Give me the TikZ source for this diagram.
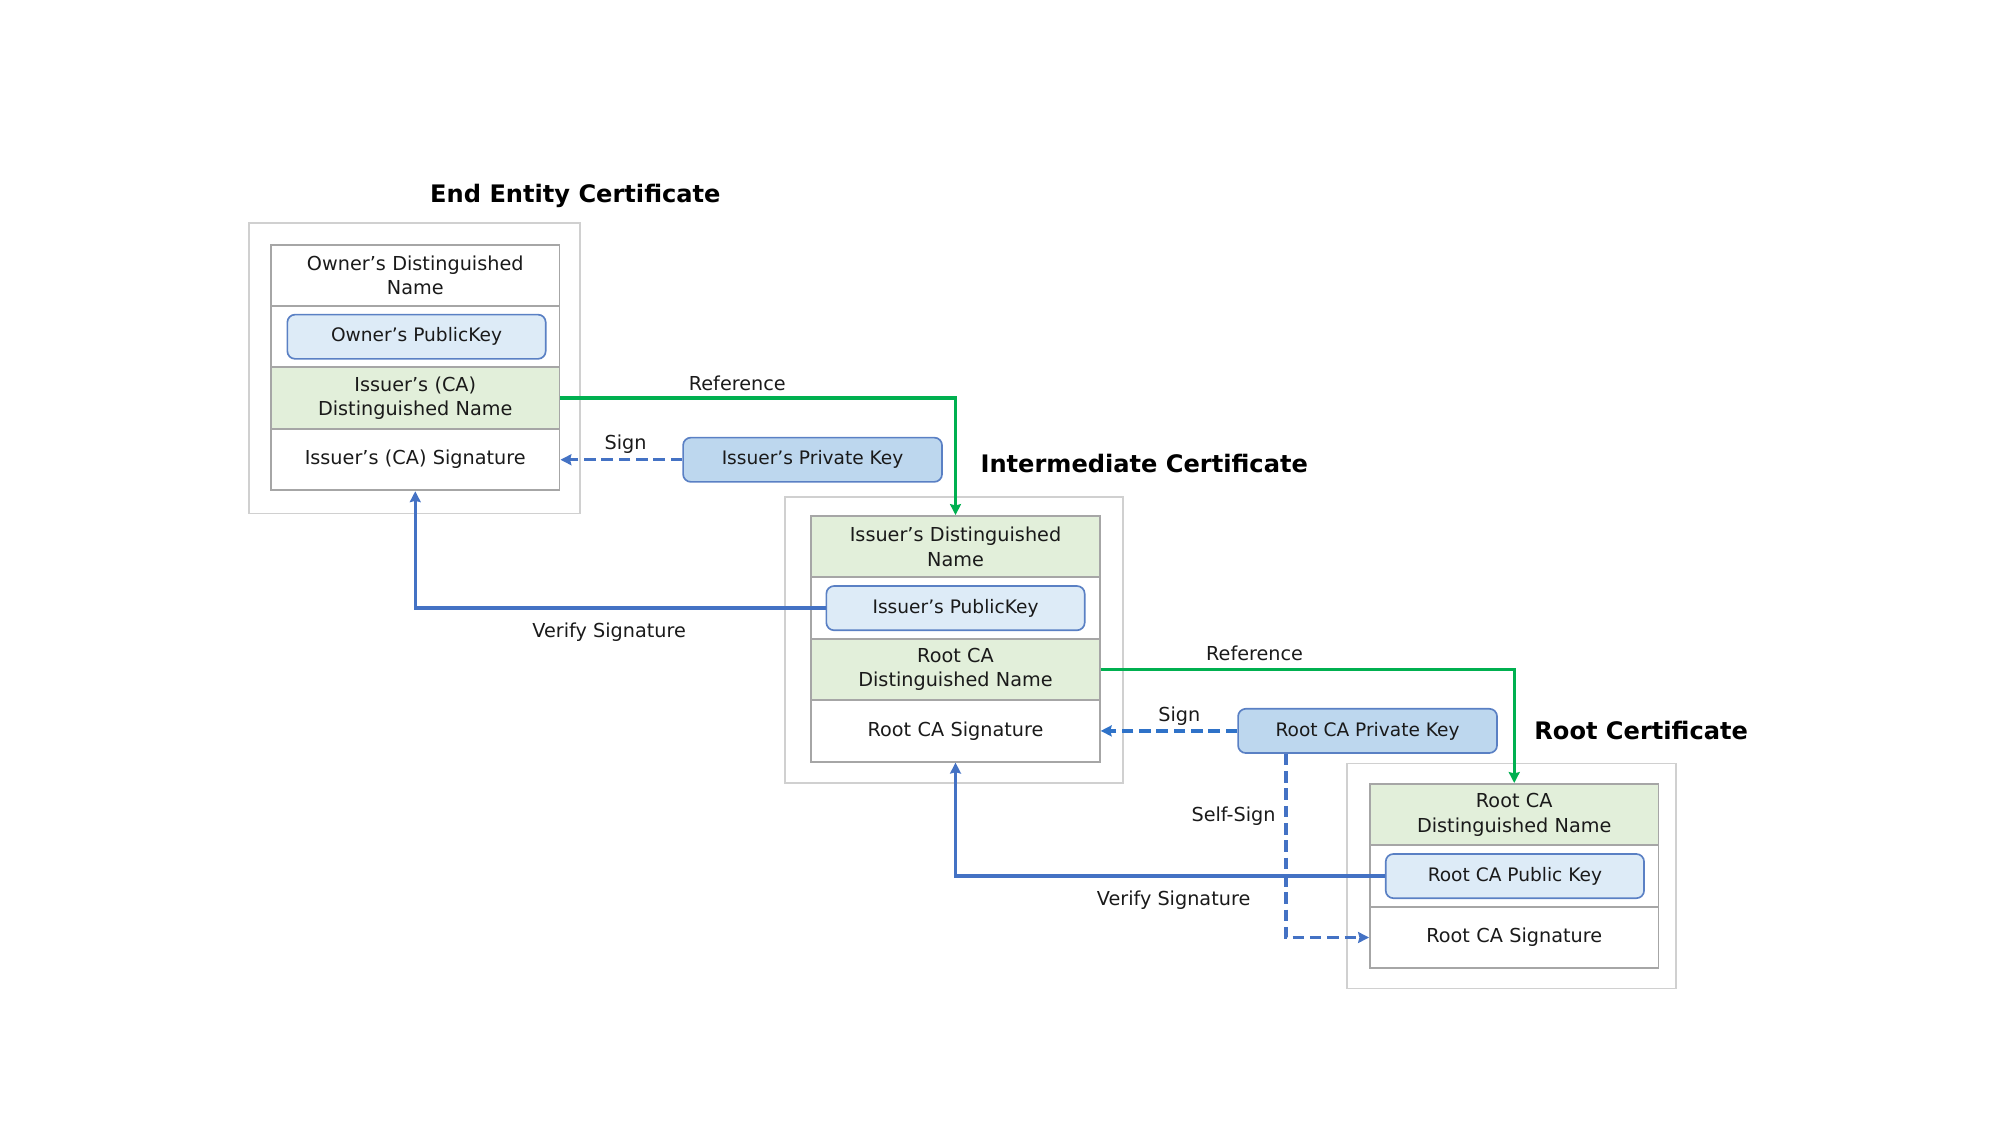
\documentclass[tikz,border=0pt]{standalone}
\usepackage{fontspec}
\setmainfont{DejaVu Sans}
\usetikzlibrary{arrows.meta}
\definecolor{greenfill}{HTML}{E2EFDA}
\definecolor{pubfill}{HTML}{DDEBF7}
\definecolor{privfill}{HTML}{BDD7EE}
\definecolor{keyborder}{HTML}{5A80C4}
\definecolor{rowborder}{HTML}{A6A6A6}
\definecolor{outerborder}{HTML}{D0D0D0}
\definecolor{refgreen}{HTML}{00B050}
\definecolor{verblue}{HTML}{4472C4}
\definecolor{signblue}{HTML}{4472C4}
\definecolor{signblueb}{HTML}{2F72C8}
\definecolor{txt}{HTML}{1A1A1A}
\tikzset{
  outerbox/.style={draw=outerborder, line width=1.5pt, inner sep=0pt},
  rowbox/.style={draw=rowborder, line width=1.5pt, fill=white, minimum width=225pt, minimum height=47.9pt,
    inner sep=0pt, text width=215pt, align=center, text=txt, font=\fontsize{15}{19}\selectfont},
  greenrow/.style={rowbox, fill=greenfill},
  pubkey/.style={draw=keyborder, line width=1.3pt, rounded corners=6pt, fill=pubfill, minimum width=201.5pt,
    minimum height=34.5pt, inner sep=0pt, align=center, text=txt, font=\fontsize{14.5}{18}\selectfont},
  privkey/.style={pubkey, fill=privfill, minimum width=202pt},
  certtitle/.style={anchor=base, font=\fontsize{18.8}{22}\selectfont\bfseries, text=black, inner sep=0pt},
  lbl/.style={anchor=base, font=\fontsize{15}{19}\selectfont, text=txt, inner sep=0pt},
  tip/.style={-{Stealth[length=8.5pt,width=8.5pt,inset=1pt]}},
  refline/.style={tip, draw=refgreen, line width=2.6pt},
  verline/.style={tip, draw=verblue, line width=2.7pt},
  signline/.style={tip, draw=signblue, line width=2.6pt, dash pattern=on 9pt off 4.5pt},
  signlineb/.style={signline, draw=signblueb}
}
\begin{document}
\begin{tikzpicture}[x=1pt,y=-1pt]
\useasboundingbox (0,0) rectangle (1560,877.5);

% titles
\node[certtitle] (eetitle) at (448.8,158.3) {End Entity Certificate};
\node[certtitle] (inttitle) at (892.5,368.5) {Intermediate Certificate};
\node[certtitle] (roottitle) at (1280.1,576.5) {Root Certificate};

% outer boxes
\node[outerbox, minimum width=258.7pt, minimum height=226.5pt] (eeout) at (323.4,287.25) {};
\node[outerbox, minimum width=263.6pt, minimum height=223pt] (intout) at (743.8,499) {};
\node[outerbox, minimum width=256.8pt, minimum height=175.5pt] (rootout) at (1179.1,683.25) {};

% End entity rows
\node[rowbox] (ee1) at (323.9,214.75) {Owner’s Distinguished\\Name};
\node[rowbox] (ee2) at (323.9,262.65) {};
\node[greenrow] (ee3) at (323.9,310.55) {Issuer’s (CA)\\Distinguished Name};
\node[rowbox] (ee4) at (323.9,358.45) {Issuer’s (CA) Signature};
\node[pubkey] (eepub) at (324.9,262.65) {Owner’s PublicKey};

% Intermediate rows
\node[greenrow] (int1) at (745.3,426.45) {Issuer’s Distinguished\\Name};
\node[rowbox] (int2) at (745.3,474.35) {};
\node[greenrow] (int3) at (745.3,522.25) {Root CA\\Distinguished Name};
\node[rowbox] (int4) at (745.3,570.15) {Root CA Signature};
\node[pubkey] (intpub) at (745.3,474.35) {Issuer’s PublicKey};

% Root rows
\node[greenrow] (root1) at (1181.1,635.45) {Root CA\\Distinguished Name};
\node[rowbox] (root2) at (1181.1,683.35) {};
\node[rowbox] (root3) at (1181.1,731.25) {Root CA Signature};
\node[pubkey] (rootpub) at (1181.6,683.35) {Root CA Public Key};

% private keys
\node[privkey] (ipriv) at (633.8,358.6) {Issuer’s Private Key};
\node[privkey] (rpriv) at (1066.7,570.1) {Root CA Private Key};

% connectors
\draw[refline] (ee3.east) -| (int1.north);
\draw[signline] (ipriv.west) -- (ipriv.west -| ee4.east);
\draw[verline] (intpub.west) -| (ee4.south);
\draw[refline] (int3.east) -| (root1.north);
\draw[signlineb] (rpriv.west) -- (rpriv.west -| int4.east);
\draw[verline] (rootpub.west) -| (int4.south);
\draw[signline] ([xshift=-63.7pt]rpriv.south) |- (root3.west);

% labels
\node[lbl] (lref1) at (575.1,304.5) {Reference};
\node[lbl] (lsign1) at (488,350.5) {Sign};
\node[lbl] (lver1) at (475.1,497) {Verify Signature};
\node[lbl] (lref2) at (978.6,515) {Reference};
\node[lbl] (lsign2) at (919.9,562.5) {Sign};
\node[lbl] (lself) at (962.2,641) {Self-Sign};
\node[lbl] (lver2) at (915.4,706) {Verify Signature};
\end{tikzpicture}
\end{document}
